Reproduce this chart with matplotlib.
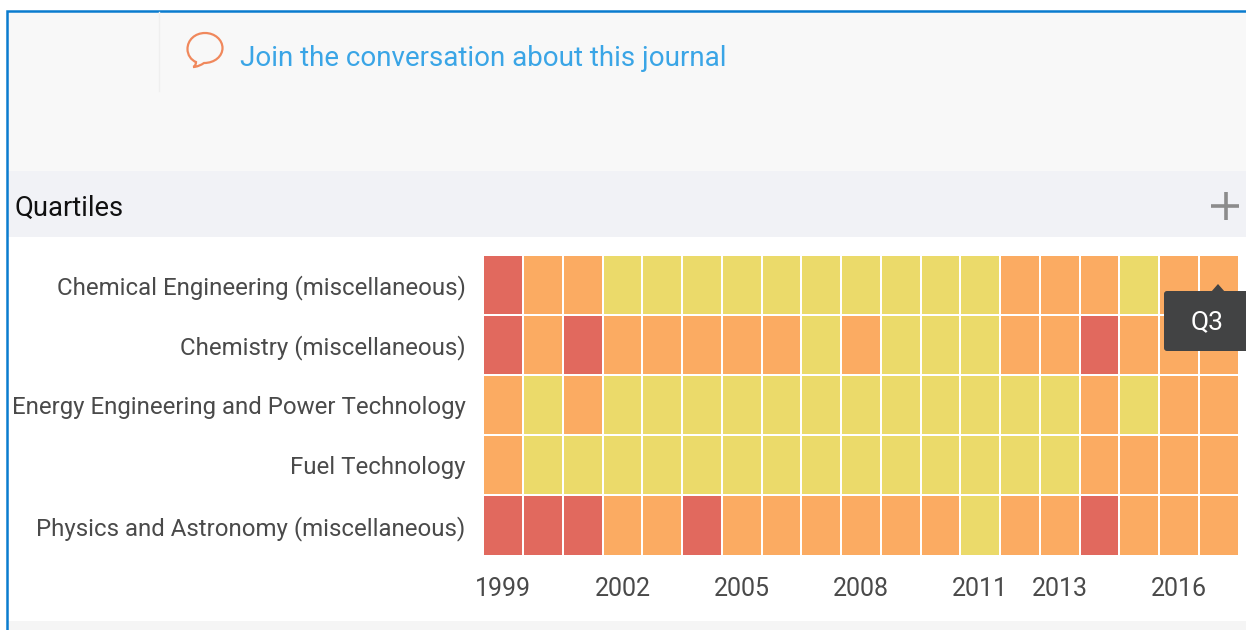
import matplotlib
matplotlib.use("Agg")
import matplotlib.pyplot as plt
from matplotlib.colors import ListedColormap
from matplotlib.patches import FancyBboxPatch, PathPatch, Polygon, Rectangle
from matplotlib.path import Path
import numpy as np

categories = [
    "Chemical Engineering (miscellaneous)",
    "Chemistry (miscellaneous)",
    "Energy Engineering and Power Technology",
    "Fuel Technology",
    "Physics and Astronomy (miscellaneous)",
]
years = list(range(1999, 2018))
year_labels = [1999, 2002, 2005, 2008, 2011, 2013, 2016]

chem_eng = [4, 3, 3, 2, 2, 2, 2, 2, 2, 2, 2, 2, 2, 3, 3, 3, 2, 3, 3]
chemistry = [4, 3, 4, 3, 3, 3, 3, 3, 2, 3, 2, 2, 2, 3, 3, 4, 3, 3, 3]
energy = [3, 2, 3, 2, 2, 2, 2, 2, 2, 2, 2, 2, 2, 2, 2, 3, 2, 3, 3]
fuel = [3, 2, 2, 2, 2, 2, 2, 2, 2, 2, 2, 2, 2, 2, 2, 3, 3, 3, 3]
physics = [4, 4, 4, 3, 3, 4, 3, 3, 3, 3, 3, 3, 2, 3, 3, 4, 3, 3, 3]

W, H = 1246, 630
plt.rcParams['font.family'] = ['Roboto', 'DejaVu Sans']
fig = plt.figure(figsize=(W / 100, H / 100), dpi=100, facecolor='white')

# page behind the chart, in pixels
page = fig.add_axes([0, 0, 1, 1])
page.set_xlim(0, W)
page.set_ylim(H, 0)
page.axis('off')
page.add_patch(Rectangle((7, 12), W, 159, fc='#f8f8f8', ec='none'))
page.add_patch(Rectangle((7, 171), W, 66, fc='#f1f2f6', ec='none'))
page.add_patch(Rectangle((7, 621), W, 9, fc='#f5f5f5', ec='none'))
page.plot([6.5, 6.5, W], [H, 11, 11], color='#0a7ccf', lw=1.8, solid_joinstyle='miter')
page.plot([158.5, 158.5], [12, 91], color='#efefef', lw=1)

bubble = Path(
    [(205, 33), (195, 33), (187.5, 40), (187.5, 49), (187.5, 55), (191, 60), (196, 62),
     (196, 65), (194, 67), (193, 67), (197, 67), (201, 65), (204, 63),
     (215, 63), (222.5, 56), (222.5, 48), (222.5, 40), (215, 33), (205, 33)],
    [Path.MOVETO] + [Path.CURVE4] * 6 + [Path.CURVE4] * 6 + [Path.CURVE4] * 6,
)
page.add_patch(PathPatch(bubble, fc='none', ec='#f0885c', lw=1.6))
page.text(240, 59, "Join the conversation about this journal", fontsize=20,
          color='#3aa5e6', va='center', ha='left')
page.text(14, 208.5, "Quartiles", fontsize=19.7, color='#111111', va='center', ha='left')
page.plot([1211, 1239], [206, 206], color='#8c8c8c', lw=2.6, solid_capstyle='butt')
page.plot([1225.5, 1225.5], [192, 220], color='#8c8c8c', lw=2.6, solid_capstyle='butt')

# heatmap
ax = fig.add_axes([483.5 / W, 1 - 555.5 / H, 755 / W, 300.5 / H])
values = np.array([chem_eng, chemistry, energy, fuel, physics])
cmap = ListedColormap(['#ebda6a', '#fbab62', '#e1695e'])
ax.pcolormesh(values, cmap=cmap, vmin=1.5, vmax=4.5, edgecolors='white', linewidth=1.4)
ax.set_ylim(5, 0)
ax.set_xlim(0, 19)
ax.set_yticks(np.arange(5) + 0.5, categories)
ax.set_xticks([years.index(y) + 0.5 for y in year_labels], year_labels)
ax.tick_params(length=0, labelsize=17.3, labelcolor='#4a4a4a')
ax.tick_params(axis='y', pad=13)
ax.tick_params(axis='x', pad=15.5, labelsize=18)
for s in ax.spines.values():
    s.set_visible(False)

# tooltip on top of the heatmap
top = fig.add_axes([0, 0, 1, 1])
top.set_xlim(0, W)
top.set_ylim(H, 0)
top.axis('off')
top.add_patch(FancyBboxPatch((1166, 293), 100, 56, boxstyle='round,pad=2,rounding_size=3',
                             fc='#424344', ec='none'))
top.add_patch(Polygon([(1211, 292), (1218, 284), (1225, 292)], fc='#424344', ec='none'))
top.text(1207, 322, "Q3", fontsize=19, color='white', ha='center', va='center')

fig.savefig('out.png', dpi=100)
